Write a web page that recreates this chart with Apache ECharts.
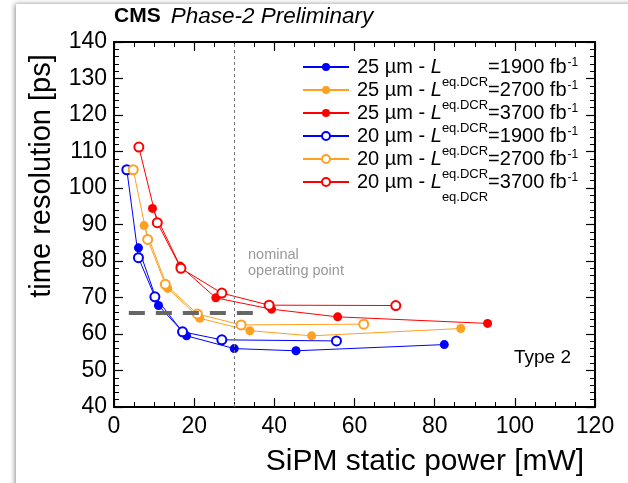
<!DOCTYPE html>
<html><head><meta charset="utf-8">
<script src="https://cdn.jsdelivr.net/npm/echarts@6/dist/echarts.min.js"></script>
<style>html,body{margin:0;padding:0;background:#fff}#c{width:628px;height:483px}</style>
</head><body><div id="c"></div>
<script>
// ---- data ----
const pitches = ['25', '25', '25', '20', '20', '20'];
const lumis = ['1900', '2700', '3700', '1900', '2700', '3700'];
const seriesNames = ['25um-1900', '25um-2700', '25um-3700', '20um-1900', '20um-2700', '20um-3700'];
const x25_1900 = [6.1, 11.1, 18.1, 30.0, 45.4, 82.4];
const y25_1900 = [83.6, 67.8, 59.5, 56.0, 55.4, 57.1];
const x25_2700 = [7.5, 13.4, 21.4, 33.9, 49.3, 86.5];
const y25_2700 = [89.7, 72.5, 64.3, 60.9, 59.5, 61.5];
const x25_3700 = [9.6, 16.5, 25.4, 39.3, 55.8, 93.2];
const y25_3700 = [94.4, 78.6, 69.9, 66.8, 64.7, 62.9];
const x20_1900 = [3.2, 6.1, 10.2, 17.1, 26.9, 55.5];
const y20_1900 = [105.0, 80.9, 70.2, 60.6, 58.4, 58.1];
const x20_2700 = [4.8, 8.4, 12.8, 20.8, 31.7, 62.3];
const y20_2700 = [105.0, 85.9, 73.6, 65.5, 62.5, 62.7];
const x20_3700 = [6.2, 10.8, 16.7, 26.9, 38.7, 70.3];
const y20_3700 = [111.2, 90.5, 78.0, 71.2, 67.9, 67.8];
const nominalPower = 30;
const targetResolution = 65.7;
const targetRange = [3.7, 35.6];
const xTicks = [0, 20, 40, 60, 80, 100, 120];
const yTicks = [40, 50, 60, 70, 80, 90, 100, 110, 120, 130, 140];

const xs = [x25_1900, x25_2700, x25_3700, x20_1900, x20_2700, x20_3700];
const ys = [y25_1900, y25_2700, y25_3700, y20_1900, y20_2700, y20_3700];
const colors = ['#0000ff', '#ffa020', '#ff0000', '#0000ff', '#ffa020', '#ff0000'];
const filled = [true, true, true, false, false, false];

const FONT = 'Liberation Sans, Arial, Helvetica, sans-serif';

const series = seriesNames.map((name, k) => ({
  name: name,
  type: 'line',
  xAxisIndex: 0, yAxisIndex: 0,
  data: xs[k].map((x, j) => [x, ys[k][j]]),
  symbol: filled[k] ? 'circle' : 'emptyCircle',
  symbolSize: 9,
  showAllSymbol: true,
  color: colors[k],
  lineStyle: { width: 1, color: colors[k] },
  itemStyle: { color: colors[k], borderColor: colors[k], borderWidth: filled[k] ? 0 : 1.3 },
  emphasis: { disabled: true },
  animation: false,
  z: filled[k] ? 3 : 4
}));

series[0].markLine = {
  silent: true, symbol: 'none', animation: false,
  label: { show: false },
  data: [
    { xAxis: nominalPower, lineStyle: { color: '#777', width: 1, type: [3, 3] } },
    [ { coord: [targetRange[0], targetResolution], lineStyle: { color: '#666', width: 4, type: [16, 11] } },
      { coord: [targetRange[1], targetResolution] } ]
  ]
};

const axisCommon = {
  type: 'value',
  splitLine: { show: false },
  axisLine: { show: true, onZero: false, lineStyle: { color: '#000', width: 2 } },
  axisTick: { show: true, inside: true, length: 9, lineStyle: { color: '#000', width: 1.2 } },
  minorTick: { show: true, length: 5, lineStyle: { color: '#000', width: 1 } },
  minorSplitLine: { show: false }
};

const option = {
  animation: false,
  backgroundColor: 'transparent',
  textStyle: { fontFamily: FONT },
  title: {
    left: 114, top: 5, padding: 0,
    text: '{b|CMS}  {i|Phase-2 Preliminary}',
    textStyle: {
      rich: {
        b: { fontFamily: FONT, fontWeight: 'bold', fontSize: 21, color: '#000' },
        i: { fontFamily: FONT, fontWeight: 'normal', fontStyle: 'italic', fontSize: 22.5, color: '#000' }
      }
    }
  },
  grid: { left: 114, right: 33, top: 42, bottom: 76 },
  xAxis: [
    Object.assign({}, axisCommon, {
      position: 'bottom', min: xTicks[0], max: xTicks[xTicks.length - 1], interval: 20,
      minorTick: Object.assign({}, axisCommon.minorTick, { splitNumber: 4 }),
      axisLabel: { color: '#000', fontSize: 23, fontFamily: FONT, margin: 8 },
      name: 'SiPM static power [mW]', nameLocation: 'middle', nameGap: 40,
      nameTextStyle: { color: '#000', fontSize: 30, fontFamily: FONT, padding: [0, 0, 0, 141] }
    }),
    Object.assign({}, axisCommon, {
      position: 'top', min: xTicks[0], max: xTicks[xTicks.length - 1], interval: 20,
      minorTick: Object.assign({}, axisCommon.minorTick, { splitNumber: 4 }),
      axisLabel: { show: false }
    })
  ],
  yAxis: [
    Object.assign({}, axisCommon, {
      position: 'left', min: yTicks[0], max: yTicks[yTicks.length - 1], interval: 10,
      minorTick: Object.assign({}, axisCommon.minorTick, { splitNumber: 5 }),
      axisLabel: { color: '#000', fontSize: 23, fontFamily: FONT, margin: 7 },
      name: 'time resolution [ps]', nameLocation: 'middle', nameGap: 58,
      nameTextStyle: { color: '#000', fontSize: 29, fontFamily: FONT, padding: [0, 0, 0, 97] }
    }),
    Object.assign({}, axisCommon, {
      position: 'right', min: yTicks[0], max: yTicks[yTicks.length - 1], interval: 10,
      minorTick: Object.assign({}, axisCommon.minorTick, { splitNumber: 5 }),
      axisLabel: { show: false }
    })
  ],
  legend: {
    orient: 'vertical', left: 302, top: 45, padding: 0,
    itemWidth: 46, itemHeight: 10, itemGap: -21,
    data: seriesNames,
    selectedMode: false,
    lineStyle: { width: 2 },
    formatter: function (name) {
      const i = seriesNames.indexOf(name);
      return '{n|' + pitches[i] + ' µm - }{i|L}{sub|eq.DCR}{m|=' + lumis[i] + ' fb}{sup|-1}';
    },
    textStyle: {
      rich: {
        n: { fontFamily: FONT, fontSize: 20, color: '#000', lineHeight: 44, padding: [0, 0, 0, 3] },
        m: { fontFamily: FONT, fontSize: 20, color: '#000', lineHeight: 44 },
        i: { fontFamily: FONT, fontSize: 20, fontStyle: 'italic', color: '#000', lineHeight: 44 },
        sub: { fontFamily: FONT, fontSize: 13, color: '#000', lineHeight: 14, verticalAlign: 'bottom' },
        sup: { fontFamily: FONT, fontSize: 12, color: '#000', lineHeight: 14, verticalAlign: 'top', padding: [12, 0, 0, 1] }
      }
    }
  },
  graphic: [
    { type: 'rect', silent: true, z: -100, shape: { x: 16, y: 4, width: 700, height: 600 },
      style: { fill: '#fff', shadowBlur: 5, shadowColor: 'rgba(0,0,0,0.45)', shadowOffsetX: -1 } },
    { type: 'text', silent: true, left: 248, top: 247,
      style: { text: 'nominal\noperating point', fill: '#999', font: '14.5px ' + FONT, lineHeight: 16 } },
    { type: 'text', silent: true, left: 514, top: 348,
      style: { text: 'Type 2', fill: '#000', font: '19px ' + FONT } }
  ],
  series: series
};

const chart = echarts.init(document.getElementById('c'), null, { renderer: 'canvas' });
chart.setOption(option);
</script></body></html>
